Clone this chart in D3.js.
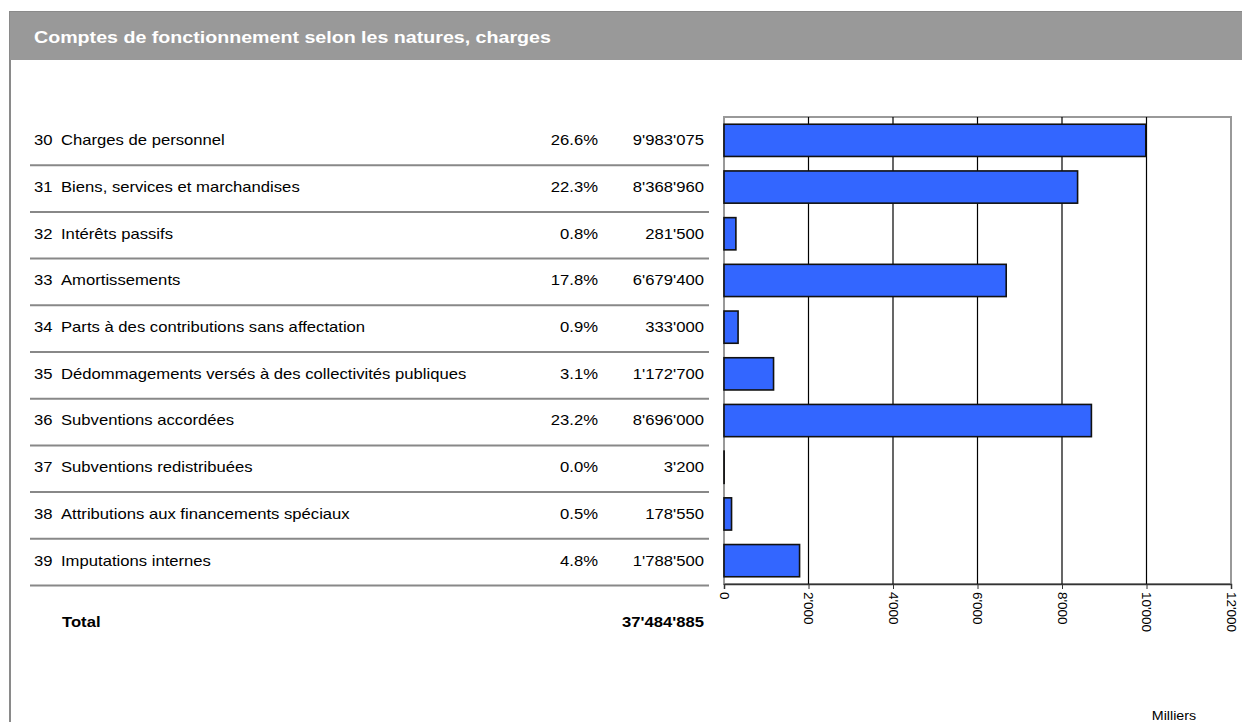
<!DOCTYPE html>
<html><head><meta charset="utf-8">
<script src="https://cdn.jsdelivr.net/npm/d3@7"></script>
<style>body{margin:0;background:#fff;}svg{display:block;font-family:"Liberation Sans",Arial,sans-serif;}</style>
</head><body>
<svg id="c" width="1242" height="722"></svg>
<script>
const title = "Comptes de fonctionnement selon les natures, charges";
const codes = ["30","31","32","33","34","35","36","37","38","39"];
const labels = ["Charges de personnel","Biens, services et marchandises","Intérêts passifs","Amortissements","Parts à des contributions sans affectation","Dédommagements versés à des collectivités publiques","Subventions accordées","Subventions redistribuées","Attributions aux financements spéciaux","Imputations internes"];
const percents = ["26.6%","22.3%","0.8%","17.8%","0.9%","3.1%","23.2%","0.0%","0.5%","4.8%"];
const amounts = [9983075,8368960,281500,6679400,333000,1172700,8696000,3200,178550,1788500];
const totalLabel = "Total";
const totalAmount = 37484885;
const xTicks = [0,2000,4000,6000,8000,10000,12000];
const unitLabel = "Milliers";

const loc = d3.formatLocale({decimal:".", thousands:"'", grouping:[3], currency:["",""]});
const fmt = loc.format(",d");
const SX = 1.19;

const svg = d3.select("#c");
function txt(g, x, y, s, size, opts={}) {
  const t = g.append("text").attr("transform",`translate(${x},${y}) scale(${opts.sx||SX},1)`)
    .attr("dy","0.35em").attr("font-size",size).attr("fill",opts.fill||"#000").text(s);
  if (opts.anchor) t.attr("text-anchor",opts.anchor);
  if (opts.bold) t.attr("font-weight","bold");
  return t;
}
// frame
svg.append("rect").attr("x",10).attr("y",12).attr("width",1240).attr("height",720)
  .attr("fill","none").attr("stroke","#8a8a8a").attr("stroke-width",2);
svg.append("rect").attr("x",10).attr("y",12).attr("width",1232).attr("height",48).attr("fill","#999999");
txt(svg, 34, 37, title, 16.5, {fill:"#fff", bold:true});

const x0 = 724, x1 = 1231, yTop = 117, yBot = 584;
const x = d3.scaleLinear().domain([0,12000]).range([x0,x1]);
const y = d3.scaleBand().domain(codes).range([yTop,yBot]).paddingInner(0.31).paddingOuter(0.155);
const yb = d3.scaleBand().domain(codes).range([yTop,yBot]);

// plot border
svg.append("rect").attr("x",x0).attr("y",yTop).attr("width",x1-x0).attr("height",yBot-yTop)
  .attr("fill","none").attr("stroke","#999").attr("stroke-width",2);
// gridlines
svg.append("g").selectAll("line").data(xTicks.slice(1,-1)).join("line")
  .attr("x1",d=>x(d)).attr("x2",d=>x(d)).attr("y1",yTop).attr("y2",yBot)
  .attr("stroke","#000").attr("stroke-width",1.2);

// bars
svg.append("g").selectAll("rect").data(codes).join("rect")
  .attr("x",x0).attr("y",d=>y(d)).attr("height",y.bandwidth())
  .attr("width",(d,i)=>x(amounts[i]/1000)-x0)
  .attr("fill","#3366ff").attr("stroke","#111").attr("stroke-width",1.6);

// axis
const ax = svg.append("g").attr("transform",`translate(0,${yBot})`)
  .call(d3.axisBottom(x).tickValues(xTicks).tickSize(5).tickFormat(d=>fmt(d)));
ax.select(".domain").attr("stroke","#333").attr("stroke-width",1.5);
ax.selectAll(".tick line").attr("stroke","#333");
ax.selectAll(".tick text").attr("font-size",13.5).attr("fill","#000")
  .attr("font-family","Liberation Sans, Arial, sans-serif")
  .attr("transform","rotate(90)").attr("text-anchor","start")
  .attr("x",8).attr("y",0).attr("dy","0.35em");

// table
const rows = svg.append("g");
codes.forEach((c,i)=>{
  const cy = yb(c)+yb.bandwidth()/2;
  txt(rows, 34, cy, c, 14);
  txt(rows, 61, cy, labels[i], 14);
  txt(rows, 598, cy, percents[i], 14, {anchor:"end"});
  txt(rows, 704, cy, fmt(amounts[i]), 14, {anchor:"end"});
  const ly = yb(c)+yb.bandwidth()+1.5;
  rows.append("line").attr("x1",30).attr("x2",709).attr("y1",ly).attr("y2",ly)
    .attr("stroke","#888").attr("stroke-width",2);
});
txt(svg, 62, 622, totalLabel, 14, {bold:true});
txt(svg, 704, 622, fmt(totalAmount), 14, {bold:true, anchor:"end"});
txt(svg, 1174, 716, unitLabel, 12, {anchor:"middle"});
</script>
</body></html>
